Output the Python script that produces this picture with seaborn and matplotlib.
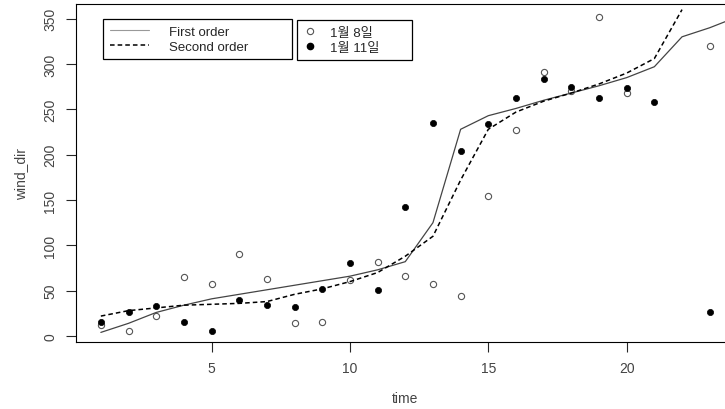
import numpy as np
import pandas as pd
import matplotlib
matplotlib.use("Agg")
import matplotlib.pyplot as plt
import seaborn as sns
from matplotlib.lines import Line2D

# time steps
time = list(range(1, 25))

# observed wind direction, two days (NaN = no point visible)
jan8 = [12, 5, 22, 65, 57, 90, 63, 14, 15, 62, 82, 66, 57, 44, 154, 227,
        291, 270, 352, 268, np.nan, np.nan, 320, np.nan]
jan11 = [16, 27, 33, 15, 5, 40, 34, 32, 52, 80, 51, 142, 235, 204, 234, 262,
         283, 275, 262, 274, 258, np.nan, 26, np.nan]

# fitted curves
first_order = [4, 14, 26, 34, 41, 46, 51, 56, 61, 66, 73, 82, 125, 228, 243,
               251, 260, 268, 276, 285, 297, 330, 340, 352]
second_order = [22, 28, 31, 34, 35, 36, 38, 46, 52, 60, 70, 88, 110, 172, 228,
                247, 259, 268, 278, 290, 306, 360, np.nan, np.nan]

df = pd.DataFrame({"time": time, "jan8": jan8, "jan11": jan11,
                   "first": first_order, "second": second_order})

sns.set_style("white")
plt.rcParams["font.family"] = ["Liberation Sans", "Noto Sans CJK KR", "DejaVu Sans"]

fig = plt.figure(figsize=(7.25, 4.1), dpi=100)
ax = fig.add_axes([0.1055, 0.1634, 0.907, 0.824])

sns.lineplot(data=df, x="time", y="first", ax=ax, color="#444444", lw=0.9)
sns.lineplot(data=df, x="time", y="second", ax=ax, color="black", lw=1.1,
             linestyle=(0, (3, 2)))
sns.scatterplot(data=df, x="time", y="jan8", ax=ax, marker="o", s=20,
                facecolor="white", edgecolor="#555555", linewidth=0.8)
sns.scatterplot(data=df, x="time", y="jan11", ax=ax, marker="o", s=20,
                color="black", edgecolor="black", linewidth=0.5)

ax.set_xlim(0.12, 23.88)
ax.set_ylim(-6.6, 366)
ax.set_xticks([5, 10, 15, 20])
ax.set_yticks(range(0, 351, 50))
ax.set_yticklabels([str(v) for v in range(0, 351, 50)], rotation=90, va="center")
ax.tick_params(axis="both", direction="out", length=7, width=0.8, pad=7,
               labelsize=10, labelcolor="#444444", left=True, bottom=True)
ax.set_xlabel("time", fontsize=10, color="#444444", labelpad=11)
ax.set_ylabel("wind_dir", fontsize=10, color="#444444", labelpad=11)
for s in ax.spines.values():
    s.set_color("black")
    s.set_linewidth(0.8)

# legends (two boxes side by side, like R's legend())
h1 = [Line2D([], [], color="#999999", lw=0.8),
      Line2D([], [], color="black", lw=1.1, linestyle=(0, (3, 2)))]
leg1 = ax.legend(h1, ["First order", "Second order"], loc="upper left",
                 mode="expand",
                 bbox_to_anchor=(103 / 725, 1 - 60 / 410, 189 / 725, 40 / 410),
                 bbox_transform=fig.transFigure,
                 fontsize=9.5, frameon=True, fancybox=False, edgecolor="black",
                 framealpha=1, handlelength=3.0, handletextpad=1.5,
                 labelspacing=0.2, borderpad=0.5, borderaxespad=0)
leg1.get_frame().set_linewidth(0.9)
ax.add_artist(leg1)

h2 = [Line2D([], [], marker="o", ls="", ms=4.5, mfc="white", mec="#555555", mew=0.8),
      Line2D([], [], marker="o", ls="", ms=4.5, mfc="black", mec="black")]
leg2 = ax.legend(h2, ["1월 8일", "1월 11일"], loc="upper left",
                 mode="expand",
                 bbox_to_anchor=(297 / 725, 1 - 60 / 410, 115 / 725, 39 / 410),
                 bbox_transform=fig.transFigure,
                 fontsize=9.5, frameon=True, fancybox=False, edgecolor="black",
                 framealpha=1, handlelength=1.0, handletextpad=1.0,
                 labelspacing=0.2, borderpad=0.5, borderaxespad=0)
leg2.get_frame().set_linewidth(0.9)

fig.savefig("out.png", dpi=100)
